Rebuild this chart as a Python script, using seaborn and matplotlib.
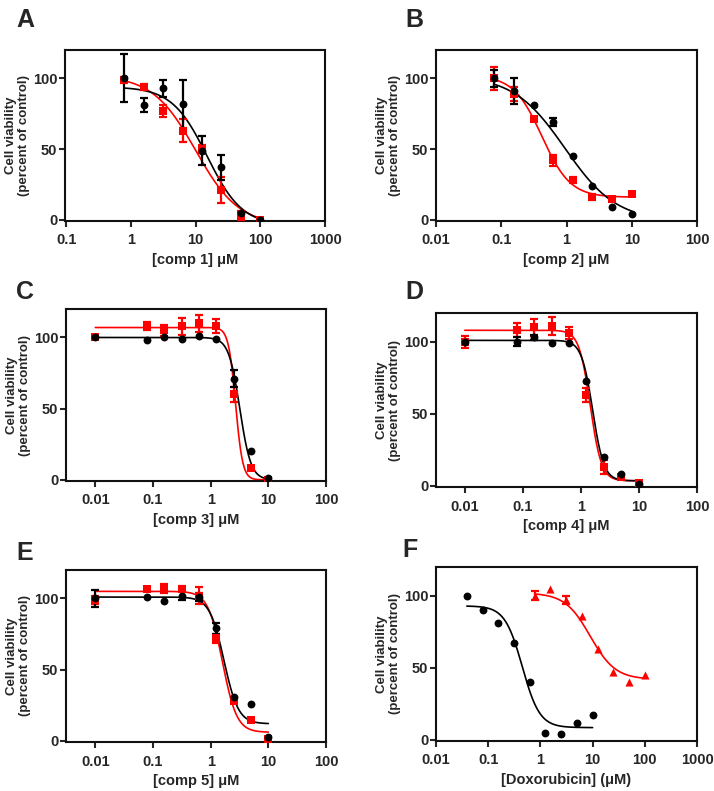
import numpy as np
import pandas as pd
import matplotlib
matplotlib.use("Agg")
import matplotlib.pyplot as plt
import seaborn as sns
from matplotlib.ticker import FixedLocator, NullLocator

sns.set_style("ticks")
plt.rcParams['font.family'] = ['Liberation Sans', 'DejaVu Sans']
plt.rcParams['font.weight'] = 'bold'

RED = "#ff0000"
BLACK = "#000000"

# ---- data ----
# error 0 = bar hidden behind the marker
conc_a = [0.78, 1.56, 3.125, 6.25, 12.5, 25, 50, 100]
black_a = [100, 81, 93, 82, 49, 37, 5, 0]
black_a_err = [17, 5, 6, 17, 10, 9, 0, 0]
red_a = [99, 94, 77, 63, 50, 21, 3, 0]
red_a_err = [2, 2, 4, 8, 3, 9, 3, 0]
fit_a_black = [94, -4, 15, 1.6]      # top, bottom, IC50, hill
fit_a_red = [102, -4, 10, 1.3]

conc_b = [0.078, 0.156, 0.3125, 0.625, 1.25, 2.5, 5, 10]
black_b = [100, 91, 81, 69, 45, 24, 9, 4]
black_b_err = [6, 9, 0, 3, 0, 0, 0, 0]
red_b = [100, 89, 71, 42, 28, 16, 15, 18]
red_b_err = [8, 5, 0, 4, 2, 2, 0, 0]
fit_b_black = [102, -1, 0.95, 1.1]
fit_b_red = [102, 16, 0.42, 2.0]

conc_c = [0.01, 0.078, 0.156, 0.3125, 0.625, 1.25, 2.5, 5, 10]
black_c = [100, 98, 100, 99, 101, 99, 71, 20, 1]
black_c_err = [0, 0, 0, 0, 0, 0, 6, 0, 0]
red_c = [100, 108, 105, 108, 110, 108, 60, 8, 0]
red_c_err = [0, 3, 4, 6, 6, 5, 5, 0, 0]
fit_c_black = [100, 0, 3.2, 4.5]
fit_c_red = [107, 0, 2.7, 7.0]

conc_d = [0.01, 0.078, 0.156, 0.3125, 0.625, 1.25, 2.5, 5, 10]
black_d = [100, 100, 103, 99, 99, 73, 20, 8, 1]
black_d_err = [0, 3, 2, 0, 0, 0, 0, 0, 0]
red_d = [100, 108, 110, 111, 106, 63, 13, 6, 2]
red_d_err = [4, 5, 6, 6, 4, 5, 5, 0, 0]
fit_d_black = [101, 3.5, 1.6, 4.5]
fit_d_red = [108, 3.5, 1.45, 4.5]

conc_e = [0.01, 0.078, 0.156, 0.3125, 0.625, 1.25, 2.5, 5, 10]
black_e = [100, 101, 98.5, 102, 101, 79, 31, 26, 3]
black_e_err = [6, 0, 0, 3, 3, 4, 0, 0, 0]
red_e = [99, 107, 107, 107, 102, 72, 28, 15, 1]
red_e_err = [3, 0, 3, 2, 6, 3, 0, 0, 0]
fit_e_black = [101, 12, 1.7, 3.5]
fit_e_red = [105, 6, 1.6, 3.5]

conc_f_black = [0.039, 0.078, 0.156, 0.3125, 0.625, 1.25, 2.5, 5, 10]
black_f = [100, 90, 81, 67, 40, 5, 4, 12, 17]
conc_f_red = [0.78, 1.56, 3.125, 6.25, 12.5, 25, 50, 100]
red_f = [100, 104.5, 97, 86, 63, 47, 40.5, 45]
red_f_err = [3, 0, 3, 0, 0, 0, 0, 0]
fit_f_black = [93, 8.5, 0.45, 2.6]
fit_f_red = [102, 42, 9, 1.8]

letters = ["A", "B", "C", "D", "E", "F"]
xlabels = ["[comp 1] \u03bcM", "[comp 2] \u03bcM", "[comp 3] \u03bcM",
           "[comp 4] \u03bcM", "[comp 5] \u03bcM", "[Doxorubicin] (\u03bcM)"]
ylabel = "Cell viability\n(percent of control)"

# axes boxes in pixels: left, right, top, bottom
boxes = [(65, 325, 50, 221), (436, 697, 50, 221),
         (66, 326, 309, 481), (436, 697, 313, 487),
         (66, 326, 570, 742), (436, 697, 567, 741)]
xlims = [(0.095, 1000), (0.01, 100), (0.0031, 100),
         (0.0032, 100), (0.0031, 100), (0.01, 1000)]
xticks = [[0.1, 1, 10, 100, 1000], [0.01, 0.1, 1, 10, 100],
          [0.01, 0.1, 1, 10, 100], [0.01, 0.1, 1, 10, 100],
          [0.01, 0.1, 1, 10, 100], [0.01, 0.1, 1, 10, 100, 1000]]
letter_pos = [(25, 20), (414, 20), (25, 292), (414, 292), (25, 553), (410, 550)]

W, H = 714, 791


def logistic(x, p):
    top, bottom, ic50, hill = p
    return bottom + (top - bottom) / (1 + (x / ic50) ** hill)


def draw_curve(ax, conc, p, color):
    xs = np.logspace(np.log10(conc[0]), np.log10(conc[-1]), 300)
    df = pd.DataFrame({"x": xs, "y": logistic(xs, p)})
    sns.lineplot(data=df, x="x", y="y", color=color, lw=1.2, ax=ax, zorder=2)


def draw_points(ax, conc, vals, err, color, marker, size):
    if err is not None:
        keep = [k for k, e in enumerate(err) if e > 0]
        ax.errorbar([conc[k] for k in keep], [vals[k] for k in keep],
                    yerr=[err[k] for k in keep], fmt="none", ecolor=color,
                    elinewidth=1.6, capsize=3, capthick=1.6, zorder=3)
    df = pd.DataFrame({"x": conc, "y": vals})
    sns.scatterplot(data=df, x="x", y="y", color=color, marker=marker,
                    s=size, edgecolor=color, linewidth=0, ax=ax, zorder=4)


fig = plt.figure(figsize=(W / 100, H / 100), dpi=100)

panels = [
    (conc_a, black_a, black_a_err, fit_a_black, conc_a, red_a, red_a_err, fit_a_red, "s"),
    (conc_b, black_b, black_b_err, fit_b_black, conc_b, red_b, red_b_err, fit_b_red, "s"),
    (conc_c, black_c, black_c_err, fit_c_black, conc_c, red_c, red_c_err, fit_c_red, "s"),
    (conc_d, black_d, black_d_err, fit_d_black, conc_d, red_d, red_d_err, fit_d_red, "s"),
    (conc_e, black_e, black_e_err, fit_e_black, conc_e, red_e, red_e_err, fit_e_red, "s"),
    (conc_f_black, black_f, None, fit_f_black, conc_f_red, red_f, red_f_err, fit_f_red, "^"),
]

for i, (cb, vb, eb, fb, cr, vr, er, fr, rmark) in enumerate(panels):
    l, r, t, b = boxes[i]
    ax = fig.add_axes([l / W, 1 - b / H, (r - l) / W, (b - t) / H])
    ax.set_xscale("log")

    draw_curve(ax, cr, fr, RED)
    draw_points(ax, cr, vr, er, RED, rmark, 34)
    draw_curve(ax, cb, fb, BLACK)
    draw_points(ax, cb, vb, eb, BLACK, "o", 32)

    ax.set_xlim(*xlims[i])
    ax.set_ylim(-0.8, 120)
    ax.xaxis.set_major_locator(FixedLocator(xticks[i]))
    ax.xaxis.set_minor_locator(NullLocator())
    ax.set_xticklabels([("%g" % v) for v in xticks[i]])
    ax.set_yticks([0, 50, 100])
    ax.tick_params(axis="both", direction="out", length=4, width=1.5,
                   labelsize=10.5, pad=1.5)
    ax.tick_params(axis="x", pad=5)
    for lab in ax.get_xticklabels() + ax.get_yticklabels():
        lab.set_fontweight("bold")
    for sp in ax.spines.values():
        sp.set_visible(True)
        sp.set_linewidth(1.5)
        sp.set_color("#111111")

    ax.set_xlabel(xlabels[i], fontsize=10.5, fontweight="bold", labelpad=4)
    ax.set_ylabel(ylabel, fontsize=9.5, fontweight="bold", linespacing=1.1)
    ax.yaxis.set_label_coords(-0.135, 0.5)

    lx, ly = letter_pos[i]
    fig.text(lx / W, 1 - ly / H, letters[i], fontsize=18, fontweight="bold",
             ha="center", va="center")

fig.savefig("out.png", dpi=100)
